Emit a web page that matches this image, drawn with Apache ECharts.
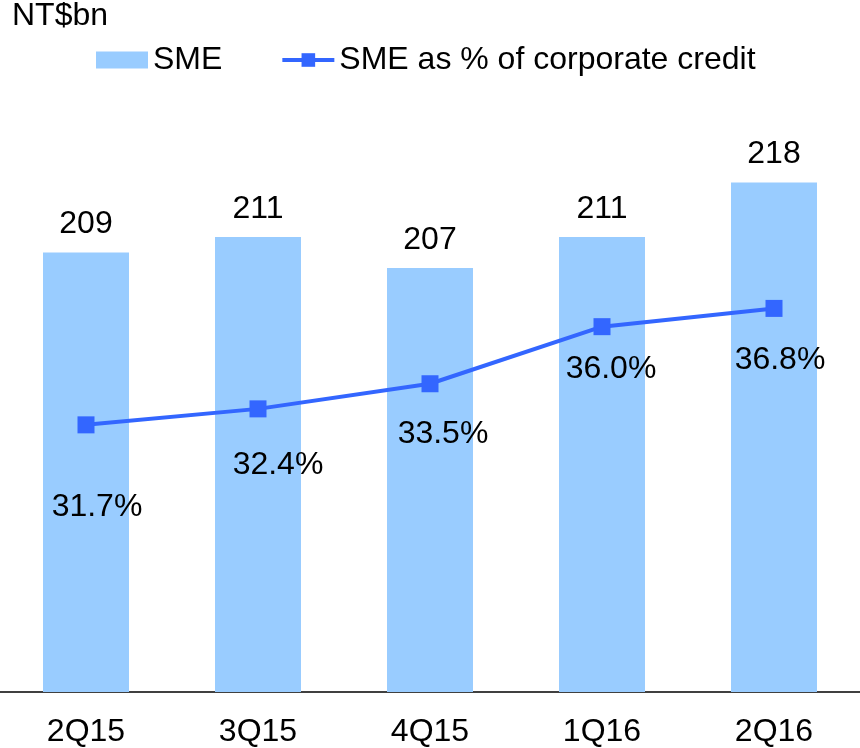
<!DOCTYPE html>
<html>
<head>
<meta charset="utf-8">
<script src="https://cdn.jsdelivr.net/npm/echarts@6/dist/echarts.min.js"></script>
<style>
  html, body { margin: 0; padding: 0; background: #fff; }
  #chart { width: 860px; height: 748px; }
</style>
</head>
<body>
<div id="chart"></div>
<script>
// quarters and values
var quarters = ['2Q15', '3Q15', '4Q15', '1Q16', '2Q16'];
var smeLoans = [209, 211, 207, 211, 218];          // NT$bn
var smeShare = [31.7, 32.4, 33.5, 36.0, 36.8];     // % of corporate credit

// where each % label sits relative to its marker [dx, dy]
var shareLabelShift = [[11, 82], [20, 56], [13, 50], [9, 43], [6, 52]];

var font = 'Liberation Sans, Arial, sans-serif';
var chart = echarts.init(document.getElementById('chart'));

chart.setOption({
  animation: false,
  textStyle: { fontFamily: font },
  title: {
    text: 'NT$bn',
    left: 12,
    top: 0,
    padding: 0,
    textStyle: { fontFamily: font, fontSize: 32, fontWeight: 'normal', color: '#000' }
  },
  legend: {
    left: 96,
    top: 44,
    padding: 0,
    itemWidth: 52,
    itemHeight: 17,
    itemGap: 58,
    textStyle: { fontFamily: font, fontSize: 32, color: '#000' },
    lineStyle: { width: 4 },
    data: [
      { name: 'SME', icon: 'rect' },
      { name: 'SME as % of corporate credit' }
    ]
  },
  grid: { left: -1, right: -3, top: 7, bottom: 55 },
  xAxis: {
    type: 'category',
    data: quarters,
    axisLine: { lineStyle: { color: '#000', width: 1.5 } },
    axisTick: { show: false },
    axisLabel: { color: '#000', fontSize: 32, fontFamily: font, margin: 24 }
  },
  yAxis: [
    { type: 'value', min: 152.4, max: 240.6, show: false, splitLine: { show: false } },
    { type: 'value', min: 20, max: 50, show: false, splitLine: { show: false } }
  ],
  series: [
    {
      name: 'SME',
      type: 'bar',
      data: smeLoans,
      barWidth: 86,
      itemStyle: { color: '#99CCFF' },
      label: {
        show: true,
        position: 'top',
        distance: 12,
        color: '#000',
        fontSize: 32,
        fontFamily: font
      }
    },
    {
      name: 'SME as % of corporate credit',
      type: 'line',
      yAxisIndex: 1,
      data: smeShare.map(function (v, i) {
        return { value: v, label: { offset: shareLabelShift[i] } };
      }),
      symbol: 'rect',
      symbolSize: 17,
      lineStyle: { color: '#3366FF', width: 4 },
      itemStyle: { color: '#3366FF' },
      label: {
        show: true,
        position: 'inside',
        color: '#000',
        fontSize: 32,
        fontFamily: font,
        formatter: function (p) { return p.value.toFixed(1) + '%'; }
      }
    }
  ]
});
</script>
</body>
</html>
